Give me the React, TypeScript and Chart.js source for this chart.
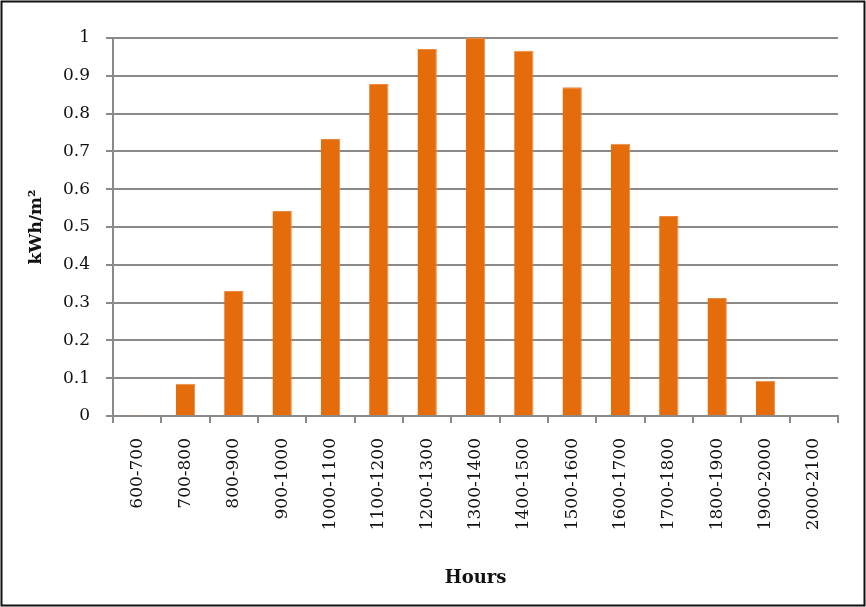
import React, { useEffect, useRef } from "react";
import { Chart, registerables } from "chart.js";

Chart.register(...registerables);

const categories = [
  "600-700", "700-800", "800-900", "900-1000", "1000-1100", "1100-1200",
  "1200-1300", "1300-1400", "1400-1500", "1500-1600", "1600-1700",
  "1700-1800", "1800-1900", "1900-2000", "2000-2100",
];
const energyValues = [
  0.002, 0.085, 0.331, 0.542, 0.733, 0.878, 0.971, 1.0, 0.966, 0.87, 0.72,
  0.529, 0.312, 0.093, 0,
];
const yTitle = "kWh/m²";
const xTitle = "Hours";

const borderPlugin = {
  id: "frameBorder",
  afterDraw(chart: any) {
    const { ctx, width, height } = chart;
    ctx.save();
    ctx.strokeStyle = "#111";
    ctx.lineWidth = 2;
    ctx.strokeRect(1.5, 1.5, width - 3, height - 3);
    ctx.restore();
  },
};

export default function App() {
  const ref = useRef<HTMLCanvasElement | null>(null);
  useEffect(() => {
    if (!ref.current) return;
    const font = "'DejaVu Serif', 'Liberation Serif', serif";
    const chart = new Chart(ref.current, {
      type: "bar",
      data: {
        labels: categories,
        datasets: [
          {
            data: energyValues,
            backgroundColor: "#E46C0A",
            borderColor: "#EE8A40",
            borderWidth: { left: 0, right: 1, top: 1, bottom: 0 },
            categoryPercentage: 1,
            barPercentage: 0.4,
          },
        ],
      },
      options: {
        responsive: false,
        animation: false,
        layout: { padding: { top: 38, right: 28, left: 0, bottom: 0 } },
        plugins: {
          legend: { display: false },
          tooltip: { enabled: false },
        },
        scales: {
          x: {
            afterFit(scale: any) {
              scale.height = 191;
            },
            grid: {
              offset: true,
              drawOnChartArea: false,
              drawTicks: true,
              tickLength: 7,
              color: "#8a8a8a",
              lineWidth: 2,
            },
            border: { color: "#8a8a8a", width: 2 },
            ticks: {
              maxRotation: 90,
              minRotation: 90,
              padding: 15,
              color: "#111",
              font: { family: font, size: 17 },
              autoSkip: false,
            },
            title: {
              display: true,
              text: xTitle,
              color: "#111",
              font: { family: font, size: 18, weight: "bold" },
              padding: { top: 0, bottom: 18 },
            },
          },
          y: {
            min: 0,
            max: 1,
            afterFit(scale: any) {
              scale.width = 113;
            },
            grid: {
              color: "#8a8a8a",
              lineWidth: 2,
              tickLength: 7,
            },
            border: { color: "#8a8a8a", width: 2 },
            ticks: {
              stepSize: 0.1,
              padding: 16,
              color: "#111",
              font: { family: font, size: 17 },
              callback: (v: any) => String(Number(Number(v).toFixed(1))),
            },
            title: {
              display: true,
              text: yTitle,
              color: "#111",
              font: { family: font, size: 17, weight: "bold" },
              padding: { top: 26, bottom: 0 },
            },
          },
        },
      },
      plugins: [borderPlugin],
    });
    return () => chart.destroy();
  }, []);
  return (
    <div style={{ position: "fixed", left: 0, top: 0, width: 866, height: 607, background: "#fff" }}>
      <canvas ref={ref} width={866} height={607} />
    </div>
  );
}
